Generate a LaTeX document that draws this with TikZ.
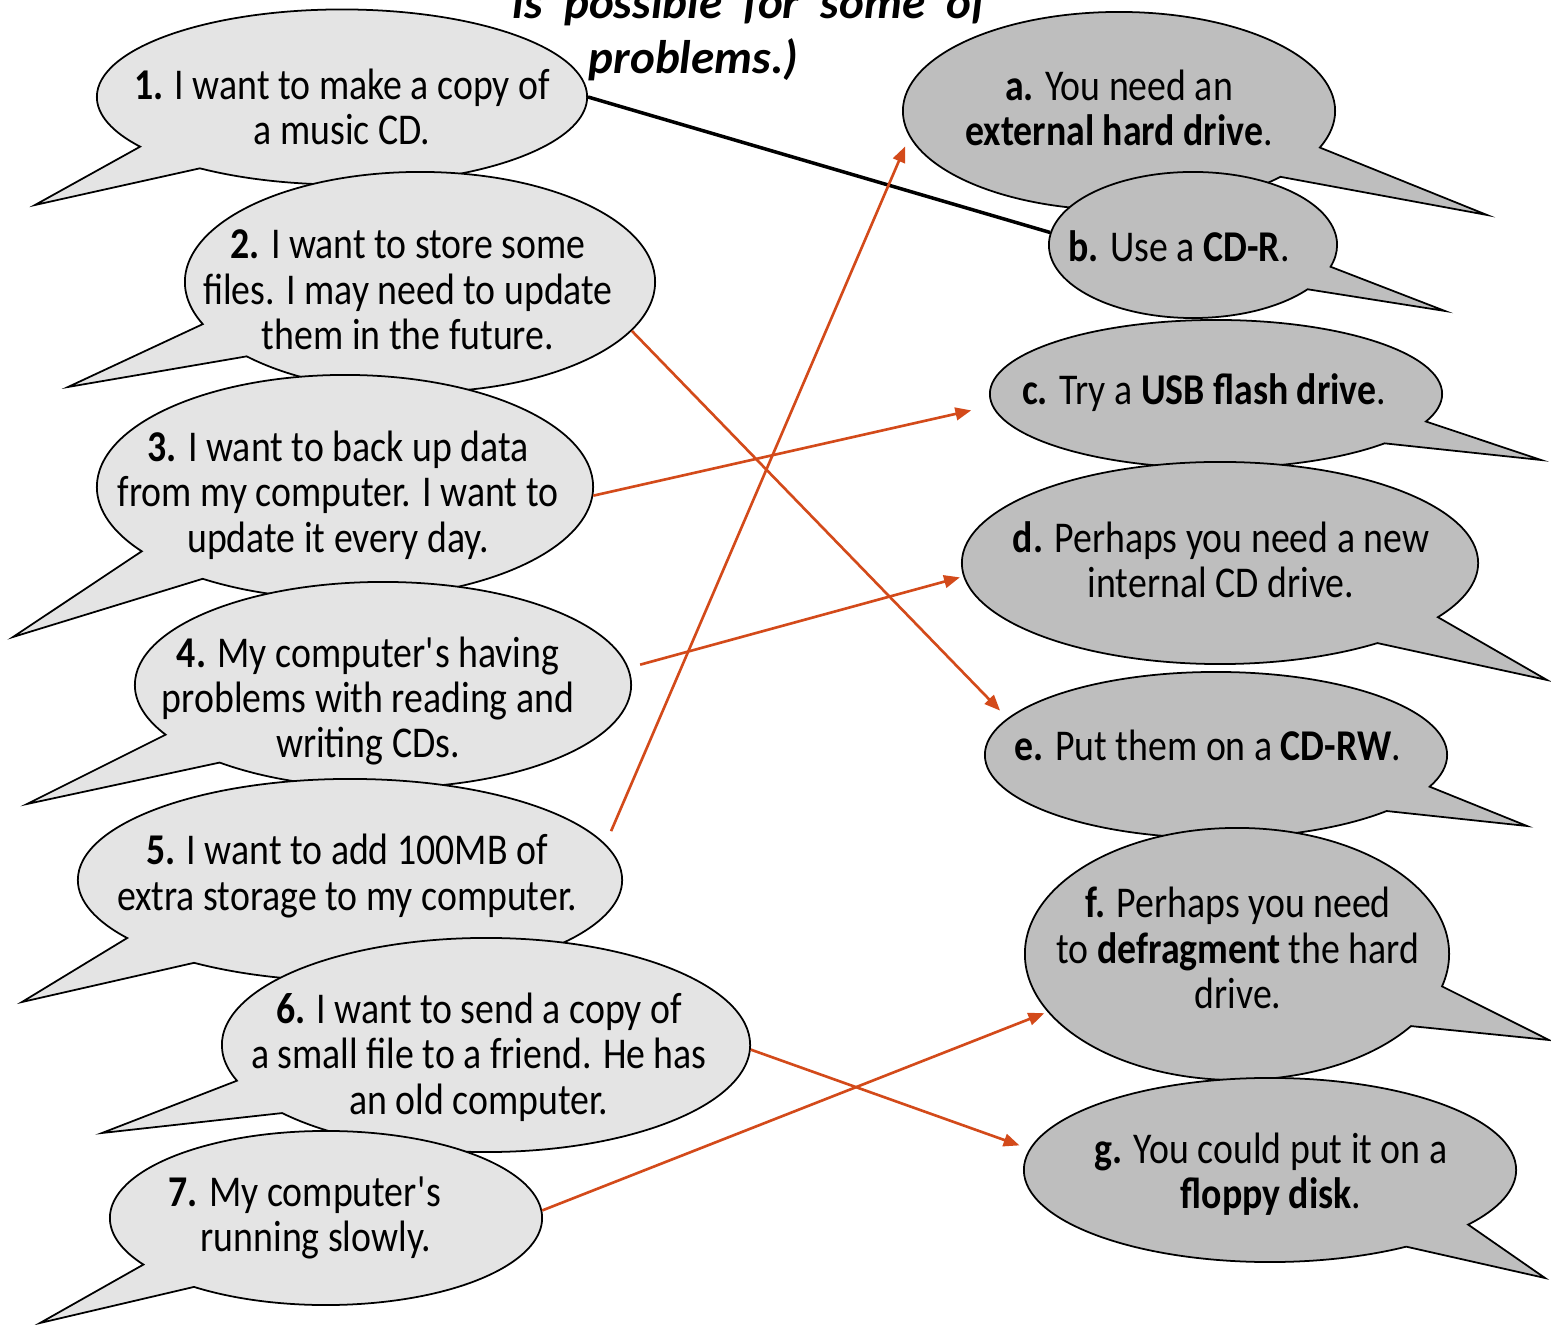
\documentclass[tikz,border=0pt]{standalone}
\usepackage{fontspec}
\setmainfont{Carlito}[FakeStretch=0.86]
\newfontfamily\titlefont{Carlito}[WordSpace=2]
\usetikzlibrary{shapes.callouts, arrows.meta}
\definecolor{askgray}{RGB}{228,228,228}
\definecolor{tipgray}{RGB}{190,190,190}
\definecolor{linkorange}{RGB}{211,74,26}

\begin{document}
\begin{tikzpicture}[x=0.01cm, y=-0.01cm,
    bubble/.style={ellipse callout, draw=black, line width=0.5pt, inner sep=0pt, callout pointer arc=20},
    ask/.style={bubble, fill=askgray},
    tip/.style={bubble, fill=tipgray},
    words/.style={align=center, font=\fontsize{12.5}{12.9}\selectfont, inner sep=0pt},
    heading/.style={anchor=base west, inner sep=0pt, font=\titlefont\bfseries\itshape\fontsize{13.4}{15}\selectfont},
    match/.style={draw=linkorange, line width=0.75pt, -{Triangle[length=4.5pt, width=3.6pt]}, shorten >=3pt}
]
\useasboundingbox (0,0) rectangle (1551,1325);

% heading, cut at the top
\node[heading] (title1) at (512,19) {is possible for some of};
\node[heading] (title2) at (588,74) {problems.)};

% problems
\node[ask, minimum width=4.9cm, minimum height=1.75cm, callout absolute pointer={(35,205)}] (q1) at (342,97) {};
\node[words] (t1) at (342,107) {\textbf{1.} I want to make a copy of\\a music CD.};
\node[ask, minimum width=4.7cm, minimum height=2.2cm, callout absolute pointer={(68,387)}] (q2) at (420,282) {};
\node[words] (t2) at (408,290) {\textbf{2.} I want to store some\\files. I may need to update\\them in the future.};
\node[ask, minimum width=4.96cm, minimum height=2.24cm, callout absolute pointer={(13,637)}] (q3) at (345,487) {};
\node[words] (t3) at (338,495) {\textbf{3.} I want to back up data\\from my computer. I want to\\update it every day.};
\node[ask, minimum width=4.96cm, minimum height=2.06cm, callout absolute pointer={(27,804)}] (q4) at (383,685) {};
\node[words] (t4) at (368,701) {\textbf{4.} My computer\textquotesingle s having\\problems with reading and\\writing CDs.};
\node[ask, minimum width=5.44cm, minimum height=2.02cm, callout absolute pointer={(22,1002)}] (q5) at (350,880) {};
\node[words] (t5) at (347,876) {\textbf{5.} I want to add 100MB of\\extra storage to my computer.};
\node[ask, minimum width=5.28cm, minimum height=2.14cm, callout absolute pointer={(102,1133)}] (q6) at (486,1045) {};
\node[words] (t6) at (479,1057) {\textbf{6.} I want to send a copy of\\a small file to a friend. He has\\an old computer.};
\node[ask, minimum width=4.32cm, minimum height=1.74cm, callout absolute pointer={(40,1323)}] (q7) at (326,1218) {};
\node[words] (t7) at (305,1218) {\textbf{7.} My computer\textquotesingle s\\\hspace*{0.5em}running slowly.};

% solutions
\node[tip, minimum width=4.32cm, minimum height=1.98cm, callout absolute pointer={(1487,215)}] (qa) at (1119,111) {};
\node[words] (ta) at (1119,108) {\textbf{a.} You need an\\\textbf{external hard drive}.};
\node[tip, minimum width=2.88cm, minimum height=1.46cm, callout absolute pointer={(1445,311)}] (qb) at (1193,245) {};
\node[words] (tb) at (1179,246) {\textbf{b.} Use a \textbf{CD-R}.};
\node[tip, minimum width=4.52cm, minimum height=1.48cm, callout absolute pointer={(1541,460)}] (qc) at (1216,394) {};
\node[words] (tc) at (1204,393) {\textbf{c.} Try a \textbf{USB flash drive}.};
\node[tip, minimum width=5.16cm, minimum height=2.02cm, callout absolute pointer={(1547,680)}] (qd) at (1220,563) {};
\node[words] (td) at (1221,560) {\textbf{d.} Perhaps you need a new\\internal CD drive.};
\node[tip, minimum width=4.62cm, minimum height=1.66cm, callout absolute pointer={(1527,826)}] (qe) at (1216,755) {};
\node[words] (te) at (1208,745) {\textbf{e.} Put them on a \textbf{CD-RW}.};
\node[tip, minimum width=4.24cm, minimum height=2.52cm, callout absolute pointer={(1549,1040)}] (qf) at (1237,954) {};
\node[words] (tf) at (1238,948) {\textbf{f.} Perhaps you need\\to \textbf{defragment} the hard\\drive.};
\node[tip, minimum width=4.92cm, minimum height=1.84cm, callout absolute pointer={(1545,1278)}] (qg) at (1270,1170) {};
\node[words] (tg) at (1271,1174) {\textbf{g.} You could put it on a\\\textbf{floppy disk}.};

% example answer, then the matches
\draw[line width=1pt] (q1.east) -- (qb.175);
\draw[match] (q2.-13) -- (qe.170);
\draw[match, shorten >=6pt] (q3.-2) -- (qc.183);
\draw[match, shorten <=3.4pt, shorten >=1pt] (q4.4) -- (qd.183);
\draw[match, shorten <=4pt] (q5.8) -- (qa.187);
\draw[match] (q6.-1.5) -- (qg.175);
\draw[match, shorten >=1pt] (q7.2) -- (qf.197);
\end{tikzpicture}
\end{document}
